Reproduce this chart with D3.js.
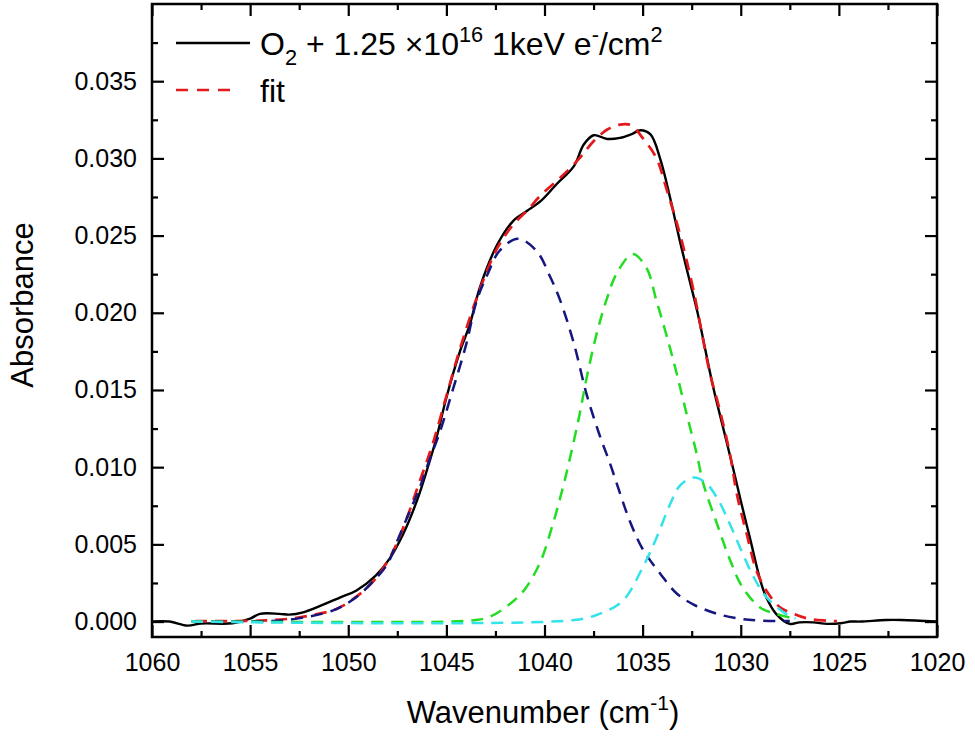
<!DOCTYPE html>
<html>
<head>
<meta charset="utf-8">
<script src="https://cdn.jsdelivr.net/npm/d3@7"></script>
<style>
  body { margin: 0; background: #fff; }
  svg { display: block; font-family: "Liberation Sans", Arial, sans-serif; }
</style>
</head>
<body>
<svg id="chart" width="975" height="745"></svg>
<script>
(function () {
    "use strict";

    // measured spectrum [wavenumber, absorbance]
    const measured = [
        [1060.0, 0.0000], [1059.1, 0.0000], [1058.2, -0.00026], [1057.5, -0.00013],
        [1055.9, -0.00011], [1055.0, 0.00019], [1054.5, 0.00050], [1053.5, 0.00050],
        [1053.0, 0.00045], [1052.3, 0.00060], [1051.4, 0.00103], [1050.4, 0.00157],
        [1049.6, 0.00200], [1048.6, 0.00298], [1047.9, 0.00406], [1047.2, 0.00567],
        [1046.5, 0.00783], [1046.0, 0.00977], [1045.5, 0.01192], [1045.0, 0.01450],
        [1044.3, 0.01753], [1043.8, 0.01926], [1043.3, 0.02162], [1042.4, 0.02443],
        [1041.6, 0.02594], [1040.9, 0.02659], [1040.2, 0.02723], [1039.4, 0.02831],
        [1038.5, 0.02950], [1038.0, 0.03090], [1037.5, 0.03150], [1036.8, 0.03126],
        [1036.15, 0.03133], [1035.6, 0.03155], [1035.1, 0.03182], [1034.6, 0.03155],
        [1034.1, 0.02995], [1033.6, 0.02745], [1033.1, 0.02464], [1032.6, 0.02206],
        [1032.2, 0.02000], [1031.4, 0.01516], [1030.9, 0.01257], [1030.4, 0.00998],
        [1030.0, 0.00783], [1029.5, 0.00524], [1029.0, 0.00265], [1028.7, 0.00157],
        [1028.2, 0.00050], [1027.5, -0.00015], [1027.0, -0.00005], [1026.3, -0.00005],
        [1025.6, -0.00015], [1024.9, -0.00011], [1024.4, 0.0000], [1023.9, 0.0000],
        [1022.6, 0.00010], [1021.8, 0.00010], [1020.0, 0.0000]
    ];

    // total fit
    const fitTotal = [
        [1057.8, 0.00003], [1054.5, 0.00006], [1053.1, 0.00017], [1051.95, 0.00039],
        [1050.6, 0.00082], [1049.4, 0.00179], [1048.55, 0.00287], [1047.7, 0.00459],
        [1047.0, 0.00675], [1046.35, 0.00912], [1045.7, 0.01149], [1045.0, 0.01460],
        [1044.3, 0.01770], [1043.3, 0.02150], [1042.4, 0.02420], [1041.6, 0.02570],
        [1040.9, 0.02660], [1040.2, 0.02760], [1039.2, 0.02874], [1038.2, 0.03003],
        [1037.5, 0.03111], [1036.8, 0.03187], [1036.15, 0.03219], [1035.6, 0.03215],
        [1035.0, 0.03133], [1034.3, 0.03003], [1033.8, 0.02809], [1033.1, 0.02510],
        [1032.4, 0.02141], [1031.6, 0.01624], [1031.1, 0.01386], [1030.55, 0.01085],
        [1030.2, 0.00826], [1029.7, 0.00569], [1029.2, 0.00330], [1028.7, 0.00201],
        [1028.0, 0.00092], [1027.3, 0.00050], [1026.5, 0.00017], [1025.6, 0.00006],
        [1025.1, 0.00003]
    ];

    // fit components
    const peakNavy = [
        [1058.0, 0.0000], [1054.5, 0.00002], [1053.1, 0.00011], [1050.8, 0.00071],
        [1049.6, 0.00157], [1048.7, 0.00265], [1048.0, 0.00373], [1047.5, 0.00524],
        [1046.85, 0.00718], [1046.35, 0.00869], [1046.0, 0.00998], [1045.3, 0.0124],
        [1044.7, 0.0149], [1044.0, 0.0179], [1043.45, 0.0208], [1042.9, 0.0225],
        [1042.3, 0.0240], [1041.35, 0.0248], [1040.4, 0.0240], [1039.7, 0.0223],
        [1039.2, 0.0208], [1038.5, 0.0180], [1037.85, 0.0147], [1037.2, 0.0121],
        [1036.65, 0.0102], [1036.15, 0.0083], [1035.65, 0.0065], [1035.0, 0.0047],
        [1034.1, 0.0031], [1033.25, 0.0018], [1032.4, 0.0011], [1031.2, 0.0005],
        [1030.0, 0.00017], [1029.0, 0.00006], [1027.5, 0.00003]
    ];

    const peakGreen = [
        [1058.0, 0.0000], [1044.8, 0.0000], [1043.5, 0.0001], [1042.8, 0.0003],
        [1041.8, 0.0011], [1041.0, 0.0021], [1040.2, 0.0039], [1039.6, 0.0062],
        [1039.1, 0.0085], [1038.7, 0.0106], [1038.2, 0.0135], [1037.85, 0.0158],
        [1037.35, 0.0186], [1036.85, 0.0208], [1036.3, 0.0226], [1035.5, 0.0238],
        [1034.8, 0.0229], [1034.3, 0.0208], [1033.75, 0.0184], [1033.25, 0.0160],
        [1032.75, 0.0134], [1032.25, 0.0109], [1031.9, 0.0089], [1031.2, 0.0063],
        [1030.55, 0.0040], [1029.9, 0.0022], [1029.0, 0.0009], [1028.2, 0.0005],
        [1027.3, 0.0002]
    ];

    const peakCyan = [
        [1058.0, 0.0000], [1038.5, 0.0001], [1037.2, 0.0005], [1036.0, 0.00136],
        [1035.0, 0.0035], [1034.3, 0.0054], [1033.6, 0.0076], [1033.1, 0.0088],
        [1032.4, 0.00933], [1031.8, 0.0090], [1031.2, 0.0080], [1030.55, 0.0063],
        [1029.9, 0.0044], [1029.35, 0.0029], [1028.7, 0.0016], [1027.7, 0.0005],
        [1027.2, 0.0002]
    ];

    const xTicks = [1060, 1055, 1050, 1045, 1040, 1035, 1030, 1025, 1020];
    const xMinorTicks = [1057.5, 1052.5, 1047.5, 1042.5, 1037.5, 1032.5, 1027.5, 1022.5];
    const yTicks = [0, 0.005, 0.01, 0.015, 0.02, 0.025, 0.03, 0.035];
    const yMinorTicks = [0.0025, 0.0075, 0.0125, 0.0175, 0.0225, 0.0275, 0.0325, 0.0375];

    const margin = { top: 4, right: 38, bottom: 108, left: 152 };
    const svg = d3.select("#chart");
    const width = +svg.attr("width") - margin.left - margin.right;
    const height = +svg.attr("height") - margin.top - margin.bottom;

    const x = d3.scaleLinear().domain([1060, 1020]).range([0, width]);
    const y = d3.scaleLinear().domain([-0.001, 0.04]).range([height, 0]);

    const g = svg.append("g").attr("transform", `translate(${margin.left},${margin.top})`);

    g.append("clipPath").attr("id", "plot-clip")
        .append("rect").attr("width", width).attr("height", height);

    const line = d3.line()
        .x(d => x(d[0]))
        .y(d => y(d[1]))
        .curve(d3.curveCatmullRom.alpha(0.5));

    const series = [
        { data: measured, color: "#000000", dash: null, w: 2.4 },
        { data: fitTotal, color: "#e3191c", dash: "12,8", w: 2.7 },
        { data: peakNavy, color: "#16167f", dash: "12,8", w: 2.5 },
        { data: peakGreen, color: "#22dd22", dash: "12,8", w: 2.5 },
        { data: peakCyan, color: "#33e3ea", dash: "12,8", w: 2.5 }
    ];

    const plot = g.append("g").attr("clip-path", "url(#plot-clip)");
    series.forEach(s => {
        plot.append("path")
            .datum(s.data)
            .attr("fill", "none")
            .attr("stroke", s.color)
            .attr("stroke-width", s.w)
            .attr("stroke-dasharray", s.dash)
            .attr("stroke-linejoin", "round")
            .attr("d", line);
    });

    // axes, ticks pointing inward on all four sides
    const fmt = d3.format(".3f");
    const styleAxis = sel => {
        sel.select(".domain").remove();
        sel.selectAll(".tick line").attr("stroke", "#000").attr("stroke-width", 2.2);
        sel.selectAll("text").attr("fill", "#000").attr("font-size", 25);
    };

    g.append("g").attr("transform", `translate(0,${height})`)
        .call(d3.axisBottom(x).tickValues(xTicks).tickFormat(d3.format("d"))
            .tickSizeInner(-12).tickSizeOuter(0).tickPadding(16))
        .call(styleAxis);
    g.append("g").attr("transform", `translate(0,${height})`)
        .call(d3.axisBottom(x).tickValues(xMinorTicks).tickFormat("")
            .tickSizeInner(-6).tickSizeOuter(0))
        .call(styleAxis);
    g.append("g")
        .call(d3.axisTop(x).tickValues(xTicks).tickFormat("").tickSizeInner(-12).tickSizeOuter(0))
        .call(styleAxis);
    g.append("g")
        .call(d3.axisTop(x).tickValues(xMinorTicks).tickFormat("").tickSizeInner(-6).tickSizeOuter(0))
        .call(styleAxis);

    g.append("g")
        .call(d3.axisLeft(y).tickValues(yTicks).tickFormat(fmt)
            .tickSizeInner(-12).tickSizeOuter(0).tickPadding(15))
        .call(styleAxis);
    g.append("g")
        .call(d3.axisLeft(y).tickValues(yMinorTicks).tickFormat("").tickSizeInner(-6).tickSizeOuter(0))
        .call(styleAxis);
    g.append("g").attr("transform", `translate(${width},0)`)
        .call(d3.axisRight(y).tickValues(yTicks).tickFormat("").tickSizeInner(-12).tickSizeOuter(0))
        .call(styleAxis);
    g.append("g").attr("transform", `translate(${width},0)`)
        .call(d3.axisRight(y).tickValues(yMinorTicks).tickFormat("").tickSizeInner(-6).tickSizeOuter(0))
        .call(styleAxis);

    g.append("rect")
        .attr("width", width).attr("height", height)
        .attr("fill", "none").attr("stroke", "#000").attr("stroke-width", 2.5);

    // writes text with sub/superscript pieces
    const richText = (sel, parts, size) => {
        let shift = 0;
        parts.forEach(p => {
            const target = p.sup ? -0.42 * size : p.sub ? 0.3 * size : 0;
            sel.append("tspan")
                .attr("dy", target - shift)
                .attr("font-size", (p.sup || p.sub) ? size * 0.68 : size)
                .text(p.t);
            shift = target;
        });
    };

    // axis titles
    g.append("text")
        .attr("transform", "rotate(-90)")
        .attr("x", -(305 - margin.top)).attr("y", 33 - margin.left)
        .attr("text-anchor", "middle").attr("font-size", 31)
        .text("Absorbance");

    const xTitle = g.append("text")
        .attr("x", 543 - margin.left).attr("y", 723 - margin.top)
        .attr("text-anchor", "middle").attr("font-size", 31);
    richText(xTitle, [{ t: "Wavenumber (cm" }, { t: "-1", sup: true }, { t: ")" }], 31);

    // legend
    const legend = g.append("g").attr("transform", `translate(${176 - margin.left},${43 - margin.top})`);
    legend.append("line").attr("x1", 0).attr("x2", 74)
        .attr("stroke", "#000").attr("stroke-width", 2.4);
    legend.append("line").attr("x1", 0).attr("x2", 56).attr("y1", 47).attr("y2", 47)
        .attr("stroke", "#e3191c").attr("stroke-width", 2.7).attr("stroke-dasharray", "12,9");

    const l1 = legend.append("text").attr("x", 84).attr("y", 12).attr("font-size", 32);
    richText(l1, [
        { t: "O" }, { t: "2", sub: true }, { t: " + 1.25 \u00d710" }, { t: "16", sup: true },
        { t: " 1keV e" }, { t: "-", sup: true }, { t: "/cm" }, { t: "2", sup: true }
    ], 32);
    legend.append("text").attr("x", 84).attr("y", 59).attr("font-size", 32).text("fit");
})();
</script>
</body>
</html>
